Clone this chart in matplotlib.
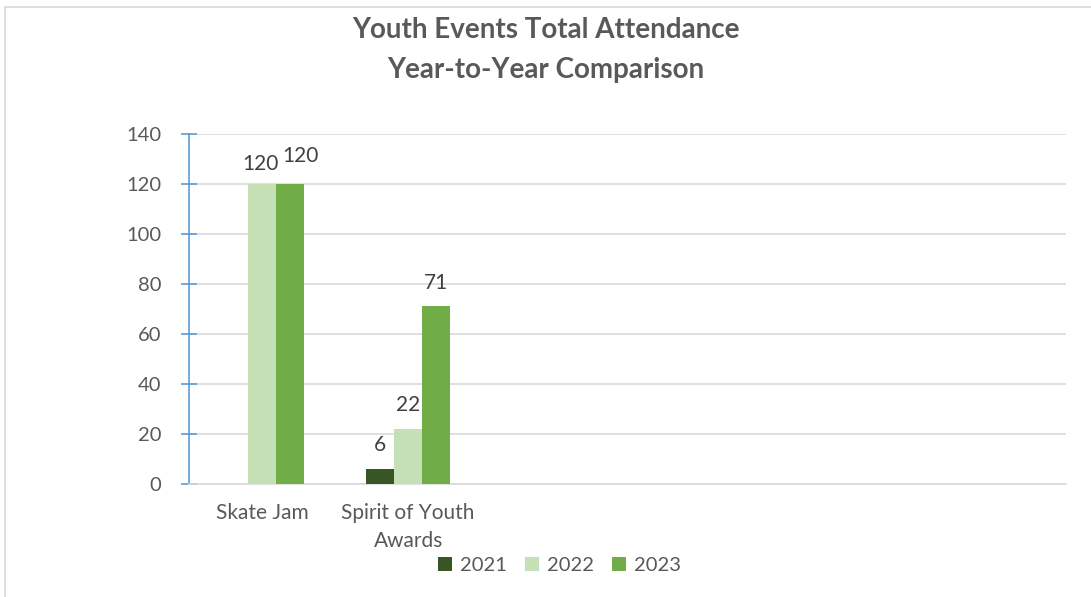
import numpy as np
import matplotlib.pyplot as plt
from matplotlib.patches import Rectangle

# chart data
categories = ["Skate Jam", "Spirit of Youth\nAwards", "", "", "", ""]
years = ["2021", "2022", "2023"]
att_2021 = [np.nan, 6, np.nan, np.nan, np.nan, np.nan]
att_2022 = [120, 22, np.nan, np.nan, np.nan, np.nan]
att_2023 = [120, 71, np.nan, np.nan, np.nan, np.nan]
colors = ["#375623", "#C5E0B4", "#70AD47"]

plt.rcParams['font.family'] = ['Lato', 'DejaVu Sans']
txt = "#595959"

fig = plt.figure(figsize=(10.91, 5.97), dpi=100)
ax = fig.add_axes([0.1732, 0.1893, 0.8036, 0.5863])

# outer border (only top/left show in the reference)
fig.patches.append(Rectangle((5 / 1091, -0.1), 1.2, 1 - 7 / 597 + 0.1,
                             transform=fig.transFigure, fill=False,
                             edgecolor="#D9D9D9", lw=1.2))

x = np.arange(len(categories))
w = 0.19
series = [att_2021, att_2022, att_2023]
for i, (vals, col, yr) in enumerate(zip(series, colors, years)):
    bars = ax.bar(x + (i - 1) * w, vals, w, color=col, label=yr, zorder=3)
    for j, b in enumerate(bars):
        v = vals[j]
        if np.isnan(v):
            continue
        off = (0, 10)
        if j == 0:  # the two 120 labels were pushed apart in the original
            off = (-1, 7) if i == 1 else (8, 13)
        ax.annotate(f"{v:.0f}", (b.get_x() + b.get_width() / 2, v),
                    xytext=off, textcoords="offset points",
                    ha="center", va="bottom", fontsize=15, color="#404040")

ax.set_xlim(-0.5, len(categories) - 0.5)
ax.set_ylim(0, 140)
ax.set_yticks(range(0, 141, 20))
ax.set_xticks(x)
ax.set_xticklabels(categories, fontsize=15, color=txt, linespacing=1.45)
ax.tick_params(axis="x", length=0, pad=14)
ax.tick_params(axis="y", direction="inout", length=12, width=1.2,
               color="#5B9BD5", labelsize=14.5, labelcolor=txt, pad=14)

ax.grid(axis="y", color="#D9D9D9", lw=1.2, zorder=0)
for s in ["top", "right"]:
    ax.spines[s].set_visible(False)
ax.spines["left"].set_color("#5B9BD5")
ax.spines["left"].set_linewidth(1.2)
ax.spines["bottom"].set_color("#D9D9D9")
ax.spines["bottom"].set_linewidth(1.2)

fig.text(0.5, 0.95, "Youth Events Total Attendance", ha="center", va="center",
         fontsize=20, fontweight="bold", color=txt)
fig.text(0.5, 0.882, "Year-to-Year Comparison", ha="center", va="center",
         fontsize=20, fontweight="bold", color=txt)

fig.legend(loc="center", bbox_to_anchor=(0.513, 0.053), ncol=3, frameon=False,
           fontsize=14.5, labelcolor=txt, handlelength=0.7, handleheight=0.7,
           columnspacing=0.9, handletextpad=0.4)

fig.savefig("out.png", dpi=100)
